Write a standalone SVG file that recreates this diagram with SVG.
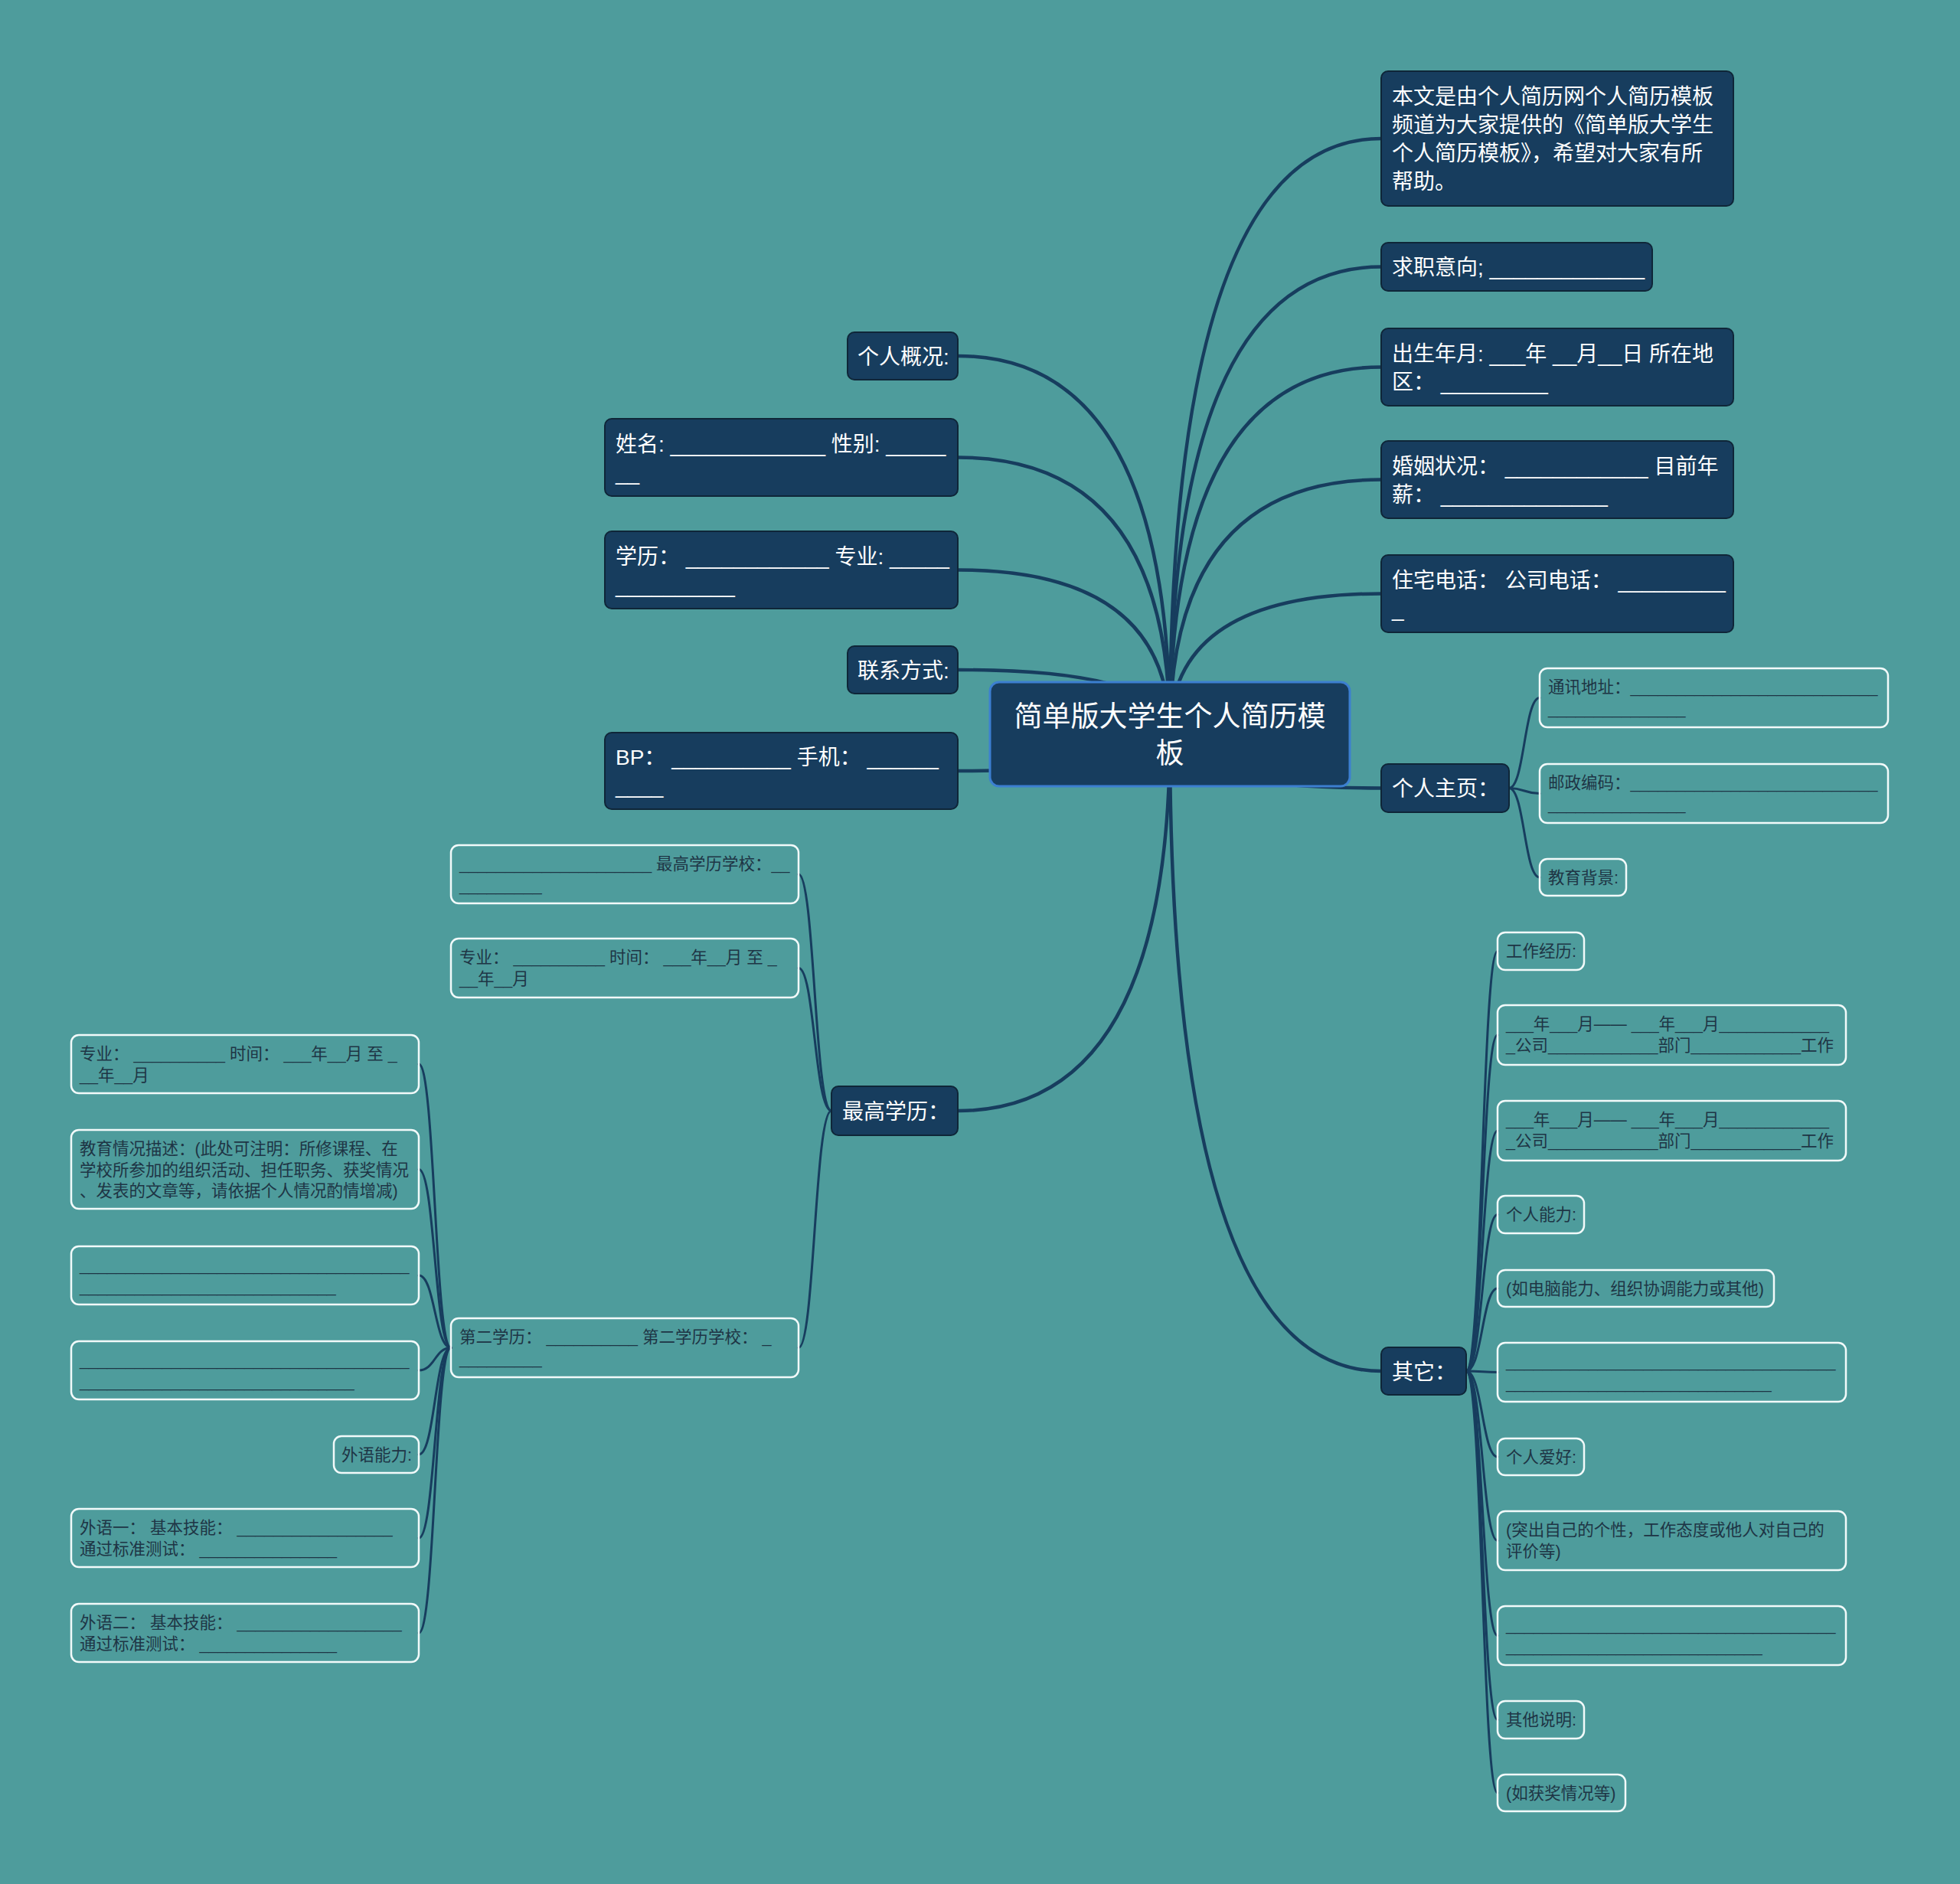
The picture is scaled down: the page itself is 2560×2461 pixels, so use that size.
<svg xmlns="http://www.w3.org/2000/svg" width="2560" height="2461" viewBox="0 0 2560 2461">
<style>
text{font-family:'Liberation Sans','Noto Sans CJK SC',sans-serif;white-space:pre}
.dn{fill:#173D5E;stroke:#0F2638;stroke-width:2}
.cn{fill:#173D5E;stroke:#3C7FD0;stroke-width:3}
.on{fill:none;stroke:#F2FAFA;stroke-width:2.5}
.dt{fill:#FFFFFF;font-size:28px}
.ct{fill:#FFFFFF;font-size:37px;text-anchor:middle}
.ot{fill:#1E3545;font-size:21.5px}
.m{fill:none;stroke:#173D5E;stroke-width:4.5;stroke-linecap:round}
.s{fill:none;stroke:#173D5E;stroke-width:3;stroke-linecap:round}
</style>
<rect x="0" y="0" width="2560" height="2461" fill="#4E9C9C"/>
<g id="connectors">
<path class="m" d="M1528 959 Q1528 181 1804 181"/>
<path class="m" d="M1528 959 Q1528 348.5 1804 348.5"/>
<path class="m" d="M1528 959 Q1528 479.5 1804 479.5"/>
<path class="m" d="M1528 959 Q1528 626.5 1804 626.5"/>
<path class="m" d="M1528 959 Q1528 775.5 1804 775.5"/>
<path class="m" d="M1528 959 Q1528 1029.5 1804 1029.5"/>
<path class="m" d="M1528 959 Q1528 1791 1804 1791"/>
<path class="m" d="M1528 959 Q1528 465 1251 465"/>
<path class="m" d="M1528 959 Q1528 597.5 1251 597.5"/>
<path class="m" d="M1528 959 Q1528 744.5 1251 744.5"/>
<path class="m" d="M1528 959 Q1528 875 1251 875"/>
<path class="m" d="M1528 959 Q1528 1007 1251 1007"/>
<path class="m" d="M1528 959 Q1528 1451 1251 1451"/>
<path class="s" d="M1971 1029.5 C1991 1029.5 1991 911.5 2011 911.5"/>
<path class="s" d="M1971 1029.5 C1991 1029.5 1991 1036.5 2011 1036.5"/>
<path class="s" d="M1971 1029.5 C1991 1029.5 1991 1146 2011 1146"/>
<path class="s" d="M1915 1791 C1936 1791 1936 1242.5 1956 1242.5"/>
<path class="s" d="M1915 1791 C1936 1791 1936 1352 1956 1352"/>
<path class="s" d="M1915 1791 C1936 1791 1936 1477 1956 1477"/>
<path class="s" d="M1915 1791 C1936 1791 1936 1586.5 1956 1586.5"/>
<path class="s" d="M1915 1791 C1936 1791 1936 1683 1956 1683"/>
<path class="s" d="M1915 1791 C1936 1791 1936 1792.5 1956 1792.5"/>
<path class="s" d="M1915 1791 C1936 1791 1936 1903 1956 1903"/>
<path class="s" d="M1915 1791 C1936 1791 1936 2012.5 1956 2012.5"/>
<path class="s" d="M1915 1791 C1936 1791 1936 2136.5 1956 2136.5"/>
<path class="s" d="M1915 1791 C1936 1791 1936 2246.5 1956 2246.5"/>
<path class="s" d="M1915 1791 C1936 1791 1936 2342 1956 2342"/>
<path class="s" d="M1086 1451 C1064 1451 1064 1142 1043 1142"/>
<path class="s" d="M1086 1451 C1064 1451 1064 1264.5 1043 1264.5"/>
<path class="s" d="M1086 1451 C1064 1451 1064 1760.5 1043 1760.5"/>
<path class="s" d="M589 1760.5 C568 1760.5 568 1390 547 1390"/>
<path class="s" d="M589 1760.5 C568 1760.5 568 1527.5 547 1527.5"/>
<path class="s" d="M589 1760.5 C568 1760.5 568 1666 547 1666"/>
<path class="s" d="M589 1760.5 C568 1760.5 568 1790 547 1790"/>
<path class="s" d="M589 1760.5 C568 1760.5 568 1900 547 1900"/>
<path class="s" d="M589 1760.5 C568 1760.5 568 2009 547 2009"/>
<path class="s" d="M589 1760.5 C568 1760.5 568 2133 547 2133"/>
</g>
<g id="root">
<rect class="cn" x="1293" y="891" width="470" height="136" rx="12"/>
<text class="ct" x="1528" y="949">简单版大学生个人简历模</text>
<text class="ct" x="1528" y="997">板</text>
</g>
<g id="n-intro">
<rect class="dn" x="1804" y="93" width="460" height="176" rx="9"/>
<text class="dt" x="1818" y="135.5">本文是由个人简历网个人简历模板</text>
<text class="dt" x="1818" y="172.5">频道为大家提供的《简单版大学生</text>
<text class="dt" x="1818" y="209.5">个人简历模板》，希望对大家有所</text>
<text class="dt" x="1818" y="246.5">帮助。</text>
</g>
<g id="n-job">
<rect class="dn" x="1804" y="317" width="354" height="63" rx="9"/>
<text class="dt" x="1818" y="359">求职意向; _____________</text>
</g>
<g id="n-birth">
<rect class="dn" x="1804" y="429" width="460" height="101" rx="9"/>
<text class="dt" x="1818" y="471.5">出生年月: ___年 __月__日 所在地</text>
<text class="dt" x="1818" y="508.5">区： _________</text>
</g>
<g id="n-marriage">
<rect class="dn" x="1804" y="576" width="460" height="101" rx="9"/>
<text class="dt" x="1818" y="618.5">婚姻状况： ____________ 目前年</text>
<text class="dt" x="1818" y="655.5">薪： ______________</text>
</g>
<g id="n-phone">
<rect class="dn" x="1804" y="725" width="460" height="101" rx="9"/>
<text class="dt" x="1818" y="767.5">住宅电话： 公司电话： _________</text>
<text class="dt" x="1818" y="804.5">_</text>
</g>
<g id="n-home">
<rect class="dn" x="1804" y="998" width="167" height="63" rx="9"/>
<text class="dt" x="1818" y="1040">个人主页：</text>
</g>
<g id="n-addr">
<rect class="on" x="2011" y="873" width="455" height="77" rx="10"/>
<text class="ot" x="2022" y="905">通讯地址：___________________________</text>
<text class="ot" x="2022" y="933">_______________</text>
</g>
<g id="n-zip">
<rect class="on" x="2011" y="998" width="455" height="77" rx="10"/>
<text class="ot" x="2022" y="1030">邮政编码：___________________________</text>
<text class="ot" x="2022" y="1058">_______________</text>
</g>
<g id="n-edubg">
<rect class="on" x="2011" y="1122" width="113" height="48" rx="10"/>
<text class="ot" x="2022" y="1154">教育背景:</text>
</g>
<g id="n-other">
<rect class="dn" x="1804" y="1760" width="111" height="62" rx="9"/>
<text class="dt" x="1818" y="1801.5">其它：</text>
</g>
<g id="n-work">
<rect class="on" x="1956" y="1218" width="113" height="49" rx="10"/>
<text class="ot" x="1967" y="1250">工作经历:</text>
</g>
<g id="n-work1">
<rect class="on" x="1956" y="1313" width="455" height="78" rx="10"/>
<text class="ot" x="1967" y="1345">___年___月—— ___年___月____________</text>
<text class="ot" x="1967" y="1373">_公司____________部门____________工作</text>
</g>
<g id="n-work2">
<rect class="on" x="1956" y="1438" width="455" height="78" rx="10"/>
<text class="ot" x="1967" y="1470">___年___月—— ___年___月____________</text>
<text class="ot" x="1967" y="1498">_公司____________部门____________工作</text>
</g>
<g id="n-ability">
<rect class="on" x="1956" y="1562" width="113" height="49" rx="10"/>
<text class="ot" x="1967" y="1594">个人能力:</text>
</g>
<g id="n-ability-d">
<rect class="on" x="1956" y="1659" width="361" height="48" rx="10"/>
<text class="ot" x="1967" y="1691">(如电脑能力、组织协调能力或其他)</text>
</g>
<g id="n-blank1">
<rect class="on" x="1956" y="1754" width="455" height="77" rx="10"/>
<text class="ot" x="1967" y="1786">____________________________________</text>
<text class="ot" x="1967" y="1814">_____________________________</text>
</g>
<g id="n-hobby">
<rect class="on" x="1956" y="1879" width="113" height="48" rx="10"/>
<text class="ot" x="1967" y="1911">个人爱好:</text>
</g>
<g id="n-hobby-d">
<rect class="on" x="1956" y="1974" width="455" height="77" rx="10"/>
<text class="ot" x="1967" y="2006">(突出自己的个性，工作态度或他人对自己的</text>
<text class="ot" x="1967" y="2034">评价等)</text>
</g>
<g id="n-blank2">
<rect class="on" x="1956" y="2098" width="455" height="77" rx="10"/>
<text class="ot" x="1967" y="2130">____________________________________</text>
<text class="ot" x="1967" y="2158">____________________________</text>
</g>
<g id="n-note">
<rect class="on" x="1956" y="2222" width="113" height="49" rx="10"/>
<text class="ot" x="1967" y="2254">其他说明:</text>
</g>
<g id="n-award">
<rect class="on" x="1956" y="2318" width="167" height="48" rx="10"/>
<text class="ot" x="1967" y="2350">(如获奖情况等)</text>
</g>
<g id="n-overview">
<rect class="dn" x="1107" y="434" width="144" height="62" rx="9"/>
<text class="dt" x="1120" y="475.5">个人概况:</text>
</g>
<g id="n-name">
<rect class="dn" x="790" y="547" width="461" height="101" rx="9"/>
<text class="dt" x="804" y="589.5">姓名: _____________ 性别: _____</text>
<text class="dt" x="804" y="626.5">__</text>
</g>
<g id="n-degree">
<rect class="dn" x="790" y="694" width="461" height="101" rx="9"/>
<text class="dt" x="804" y="736.5">学历： ____________ 专业: _____</text>
<text class="dt" x="804" y="773.5">__________</text>
</g>
<g id="n-contact">
<rect class="dn" x="1107" y="844" width="144" height="62" rx="9"/>
<text class="dt" x="1120" y="885.5">联系方式:</text>
</g>
<g id="n-bp">
<rect class="dn" x="790" y="957" width="461" height="100" rx="9"/>
<text class="dt" x="804" y="999">BP： __________ 手机： ______</text>
<text class="dt" x="804" y="1036">____</text>
</g>
<g id="n-edu">
<rect class="dn" x="1086" y="1419" width="165" height="64" rx="9"/>
<text class="dt" x="1100" y="1461.5">最高学历：</text>
</g>
<g id="n-edu-school">
<rect class="on" x="589" y="1104" width="454" height="76" rx="10"/>
<text class="ot" x="600" y="1136">_____________________ 最高学历学校：__</text>
<text class="ot" x="600" y="1164">_________</text>
</g>
<g id="n-edu-major">
<rect class="on" x="589" y="1226" width="454" height="77" rx="10"/>
<text class="ot" x="600" y="1258">专业： __________ 时间： ___年__月 至 _</text>
<text class="ot" x="600" y="1286">__年__月</text>
</g>
<g id="n-edu2">
<rect class="on" x="589" y="1722" width="454" height="77" rx="10"/>
<text class="ot" x="600" y="1754">第二学历： __________ 第二学历学校： _</text>
<text class="ot" x="600" y="1782">_________</text>
</g>
<g id="n-edu2-major">
<rect class="on" x="93" y="1352" width="454" height="76" rx="10"/>
<text class="ot" x="104" y="1384">专业： __________ 时间： ___年__月 至 _</text>
<text class="ot" x="104" y="1412">__年__月</text>
</g>
<g id="n-edu2-desc">
<rect class="on" x="93" y="1476" width="454" height="103" rx="10"/>
<text class="ot" x="104" y="1508">教育情况描述：(此处可注明：所修课程、在</text>
<text class="ot" x="104" y="1535.5">学校所参加的组织活动、担任职务、获奖情况</text>
<text class="ot" x="104" y="1563">、发表的文章等，请依据个人情况酌情增减)</text>
</g>
<g id="n-edu2-blank1">
<rect class="on" x="93" y="1628" width="454" height="76" rx="10"/>
<text class="ot" x="104" y="1660">____________________________________</text>
<text class="ot" x="104" y="1688">____________________________</text>
</g>
<g id="n-edu2-blank2">
<rect class="on" x="93" y="1752" width="454" height="76" rx="10"/>
<text class="ot" x="104" y="1784">____________________________________</text>
<text class="ot" x="104" y="1812">______________________________</text>
</g>
<g id="n-lang">
<rect class="on" x="436" y="1876" width="111" height="48" rx="10"/>
<text class="ot" x="446" y="1908">外语能力:</text>
</g>
<g id="n-lang1">
<rect class="on" x="93" y="1971" width="454" height="76" rx="10"/>
<text class="ot" x="104" y="2003">外语一： 基本技能： _________________</text>
<text class="ot" x="104" y="2031">通过标准测试： _______________</text>
</g>
<g id="n-lang2">
<rect class="on" x="93" y="2095" width="454" height="76" rx="10"/>
<text class="ot" x="104" y="2127">外语二： 基本技能： __________________</text>
<text class="ot" x="104" y="2155">通过标准测试： _______________</text>
</g>
</svg>
